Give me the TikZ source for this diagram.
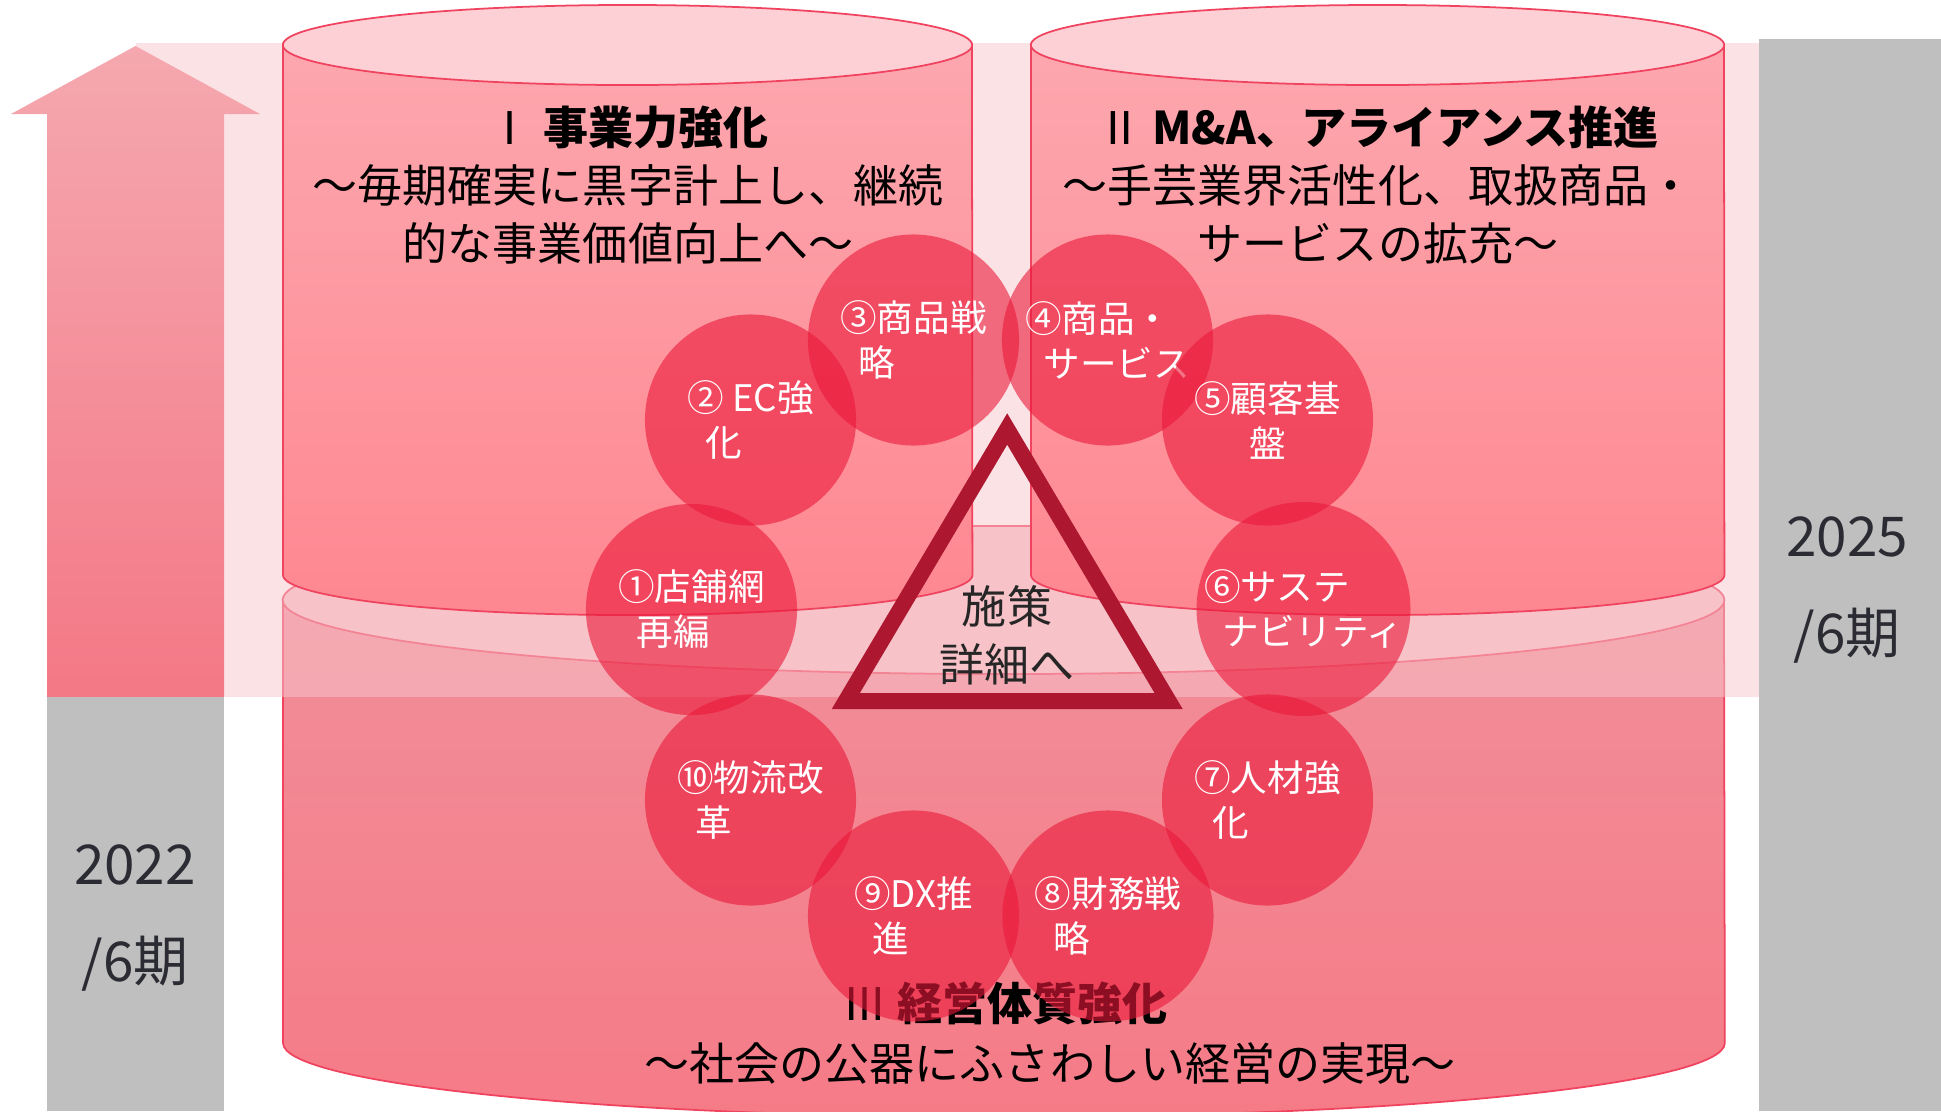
\documentclass[tikz,border=0pt]{standalone}
\usepackage{fontspec}
\setmainfont{Noto Sans CJK JP}

\definecolor{lowtop}{HTML}{F18E99}
\definecolor{lowbot}{HTML}{F57B87}
\definecolor{lowlid}{HTML}{F9BEC4}
\definecolor{uptop}{HTML}{FDA7AE}
\definecolor{upbot}{HTML}{FE8791}
\definecolor{uplid}{HTML}{FDD0D5}
\definecolor{rimred}{HTML}{F0435F}
\definecolor{bandpink}{RGB}{247,198,204}
\definecolor{arrowtop}{HTML}{F5A8AF}
\definecolor{arrowbot}{HTML}{F47886}
\definecolor{periodgray}{HTML}{BFBFBF}
\definecolor{yearink}{HTML}{2B2B33}
\definecolor{measurered}{RGB}{234,24,57}
\definecolor{wine}{HTML}{AD1730}
\definecolor{ink}{HTML}{262626}

\tikzset{
  rim/.style={draw=rimred, line width=0.5pt},
  heading/.style={align=center, font=\fontsize{12.8}{16.4}\selectfont},
  period/.style={align=center, text=yearink, font=\fontsize{15.6}{27.6}\selectfont},
  measure/.style={circle, fill=measurered, fill opacity=0.6, text opacity=1,
    text=white, minimum size=2.11cm, inner sep=0pt, align=left,
    font=\fontsize{10.4}{12.8}\selectfont},
}

\begin{document}
\begin{tikzpicture}[x=0.01cm, y=-0.01cm]
\useasboundingbox (0, 0) rectangle (1941, 1111);

% lower cylinder
\shade[top color=lowtop, bottom color=lowbot] (283, 600) -- (283, 1043)
  arc[start angle=180, end angle=360, x radius=7.205cm, y radius=0.74cm] -- (1724, 600) -- cycle;
\draw[rim] (283, 600) -- (283, 1043)
  arc[start angle=180, end angle=360, x radius=7.205cm, y radius=0.74cm] -- (1724, 600);
\draw[rim, fill=lowlid] (1003.5, 600) ellipse [x radius=7.205cm, y radius=0.74cm];

% band from 2022 to 2025
\fill[bandpink, fill opacity=0.5] (135.5, 43) rectangle (1759, 697);

% upper cylinders
\foreach \l/\r in {283/972, 1031/1724} {
  \pgfmathsetmacro\rx{(\r-\l)/200}
  \pgfmathsetmacro\cx{(\r+\l)/2}
  \shade[top color=uptop, bottom color=upbot] (\l, 45) -- (\l, 575)
    arc[start angle=180, end angle=360, x radius=\rx cm, y radius=0.4cm] -- (\r, 45) -- cycle;
  \draw[rim] (\l, 45) -- (\l, 575)
    arc[start angle=180, end angle=360, x radius=\rx cm, y radius=0.4cm] -- (\r, 45);
  \draw[rim, fill=uplid] (\cx, 45) ellipse [x radius=\rx cm, y radius=0.4cm];
}

% arrow and periods
\shade[top color=arrowtop, bottom color=arrowbot] (47, 697) -- (47, 114) -- (11, 114)
  -- (135.5, 46) -- (260, 114) -- (224, 114) -- (224, 697) -- cycle;
\fill[periodgray] (47, 697) rectangle (224, 1111);
\fill[periodgray] (1759, 39) rectangle (1941, 1111);
\node (start) at (135, 918) [period] {2022\\/6期};
\node (goal) at (1847, 590) [period] {2025\\/6期};

% titles
\node (t1) at (628, 185) [heading] {Ⅰ\ \textbf{事業力強化}\\～毎期確実に黒字計上し、継続\\的な事業価値向上へ～};
\node (t2) at (1378, 185) [heading] {Ⅱ\ \textbf{M\&A、アライアンス推進}\\～手芸業界活性化、取扱商品・\\サービスの拡充～};
\node (t3) at (1005, 1003) [heading] {Ⅲ\ \textbf{経営体質強化}};
\node (t3sub) at (1050, 1063) [heading] {～社会の公器にふさわしい経営の実現～};

% measures
\node (m1) at (691.5, 609.5) [measure] {①店舗網\\\hspace*{0.5em}再編};
\node (m2) at (750.5, 420) [measure] {② EC強\\\hspace*{0.5em}化};
\node (m3) at (913.5, 340) [measure] {③商品戦\\\hspace*{0.5em}略};
\node (m4) at (1107.5, 340) [measure] {④商品・\\\hspace*{0.5em}サービス};
\node (m5) at (1267.5, 420) [measure, align=center] {⑤顧客基\\盤};
\node (m6) at (1303.5, 609) [measure] {⑥サステ\\\hspace*{0.5em}ナビリティ};
\node (m7) at (1267.5, 800) [measure] {⑦人材強\\\hspace*{0.5em}化};
\node (m8) at (1108, 916) [measure] {⑧財務戦\\\hspace*{0.5em}略};
\node (m9) at (913.5, 916) [measure] {⑨DX推\\\hspace*{0.5em}進};
\node (m10) at (750.5, 800) [measure] {⑩物流改\\\hspace*{0.5em}革};

% triangle
\draw[wine, line width=0.16cm, miter limit=10] (1007.2, 429) -- (845.8, 701) -- (1168.6, 701) -- cycle;
\node (detail) at (1007, 635) [heading, text=ink] {施策\\詳細へ};
\end{tikzpicture}
\end{document}
